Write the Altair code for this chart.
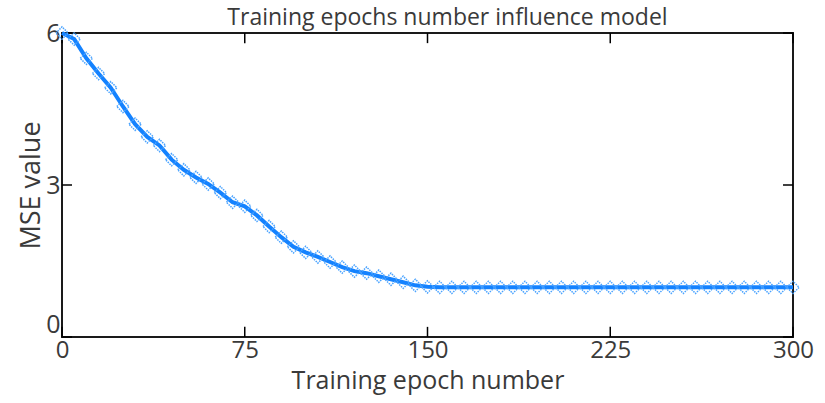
import altair as alt
import pandas as pd

# Training epochs and the MSE measured at each of them
epochs = list(range(0, 301, 5))
mse = [
    6.00, 5.88, 5.50, 5.20, 4.92, 4.55, 4.20, 3.95, 3.78, 3.50,
    3.30, 3.15, 3.02, 2.85, 2.66, 2.58, 2.40, 2.18, 1.97, 1.78,
    1.67, 1.58, 1.48, 1.38, 1.30, 1.26, 1.20, 1.14, 1.08, 1.02,
    0.99, 0.98, 0.98, 0.98, 0.98, 0.98, 0.98, 0.98, 0.98, 0.98,
    0.98, 0.98, 0.98, 0.98, 0.98, 0.98, 0.98, 0.98, 0.98, 0.98,
    0.98, 0.98, 0.98, 0.98, 0.98, 0.98, 0.98, 0.98, 0.98, 0.98,
    0.98,
]

x_ticks = [0, 75, 150, 225, 300]
y_ticks = [0, 3, 6]

FONT = "Open Sans"
TEXT = "#3a3a3a"
LINE = "#1482ff"
MARK = "#4aa3ff"

df = pd.DataFrame({"epoch": epochs, "mse": mse})

xs = alt.Scale(domain=[0, 300], nice=False, zero=False)
ys = alt.Scale(domain=[0, 6], nice=False, zero=False)

x_axis = alt.Axis(values=x_ticks, title="Training epoch number", grid=False,
                  ticks=False, domain=False, labelFontSize=24, labelFont=FONT,
                  labelColor=TEXT, labelPadding=1, titleFontSize=25,
                  titleFont=FONT, titleColor=TEXT, titleFontWeight="normal",
                  titlePadding=6, labelFlush=False)
y_axis = alt.Axis(values=y_ticks, title="MSE value", grid=False,
                  ticks=False, domain=False, labelFontSize=25, labelFont=FONT,
                  labelColor=TEXT, labelPadding=2, titleFontSize=27,
                  titleFont=FONT, titleColor=TEXT, titleFontWeight="normal",
                  titlePadding=0, labelFlush=False,
                  labelBaseline=alt.expr("datum.value == 0 ? 'bottom' : 'middle'"))

base = alt.Chart(df)

line = base.mark_line(color=LINE, strokeWidth=4).encode(
    x=alt.X("epoch:Q", scale=xs, axis=x_axis),
    y=alt.Y("mse:Q", scale=ys, axis=y_axis),
)

points = base.mark_point(shape="diamond", filled=False, color=MARK,
                         strokeWidth=1.5, strokeDash=[1.5, 1], size=150,
                         opacity=1).encode(
    x=alt.X("epoch:Q", scale=xs),
    y=alt.Y("mse:Q", scale=ys),
)

# inward tick marks on all four sides of the frame
xt = pd.DataFrame({"t": x_ticks})
yt = pd.DataFrame({"t": y_ticks})
tick_len_y = 0.2   # in MSE units
tick_len_x = 4.1   # in epochs

bottom_ticks = alt.Chart(xt).mark_rule(color="black", strokeWidth=1.5).encode(
    x=alt.X("t:Q", scale=xs), y=alt.datum(0, scale=ys), y2=alt.datum(tick_len_y))
top_ticks = alt.Chart(xt).mark_rule(color="black", strokeWidth=1.5).encode(
    x=alt.X("t:Q", scale=xs), y=alt.datum(6, scale=ys), y2=alt.datum(6 - tick_len_y))
left_ticks = alt.Chart(yt).mark_rule(color="black", strokeWidth=1.5).encode(
    y=alt.Y("t:Q", scale=ys), x=alt.datum(0, scale=xs), x2=alt.datum(tick_len_x))
right_ticks = alt.Chart(yt).mark_rule(color="black", strokeWidth=1.5).encode(
    y=alt.Y("t:Q", scale=ys), x=alt.datum(300, scale=xs), x2=alt.datum(300 - tick_len_x))

chart = alt.layer(
    bottom_ticks, top_ticks, left_ticks, right_ticks, line, points
).properties(
    width=731,
    height=304,
    background="white",
    title=alt.TitleParams("Training epochs number influence model",
                          font=FONT, fontSize=23, fontWeight="normal",
                          color=TEXT, offset=-9, dx=20),
    autosize=alt.AutoSizeParams(type="none"),
    padding={"left": 62, "top": 33, "right": 32, "bottom": 66},
).configure_view(
    stroke="#1a1a1a", strokeWidth=2
)

chart.save("out.html", embed_options={"renderer": "svg", "actions": False})
